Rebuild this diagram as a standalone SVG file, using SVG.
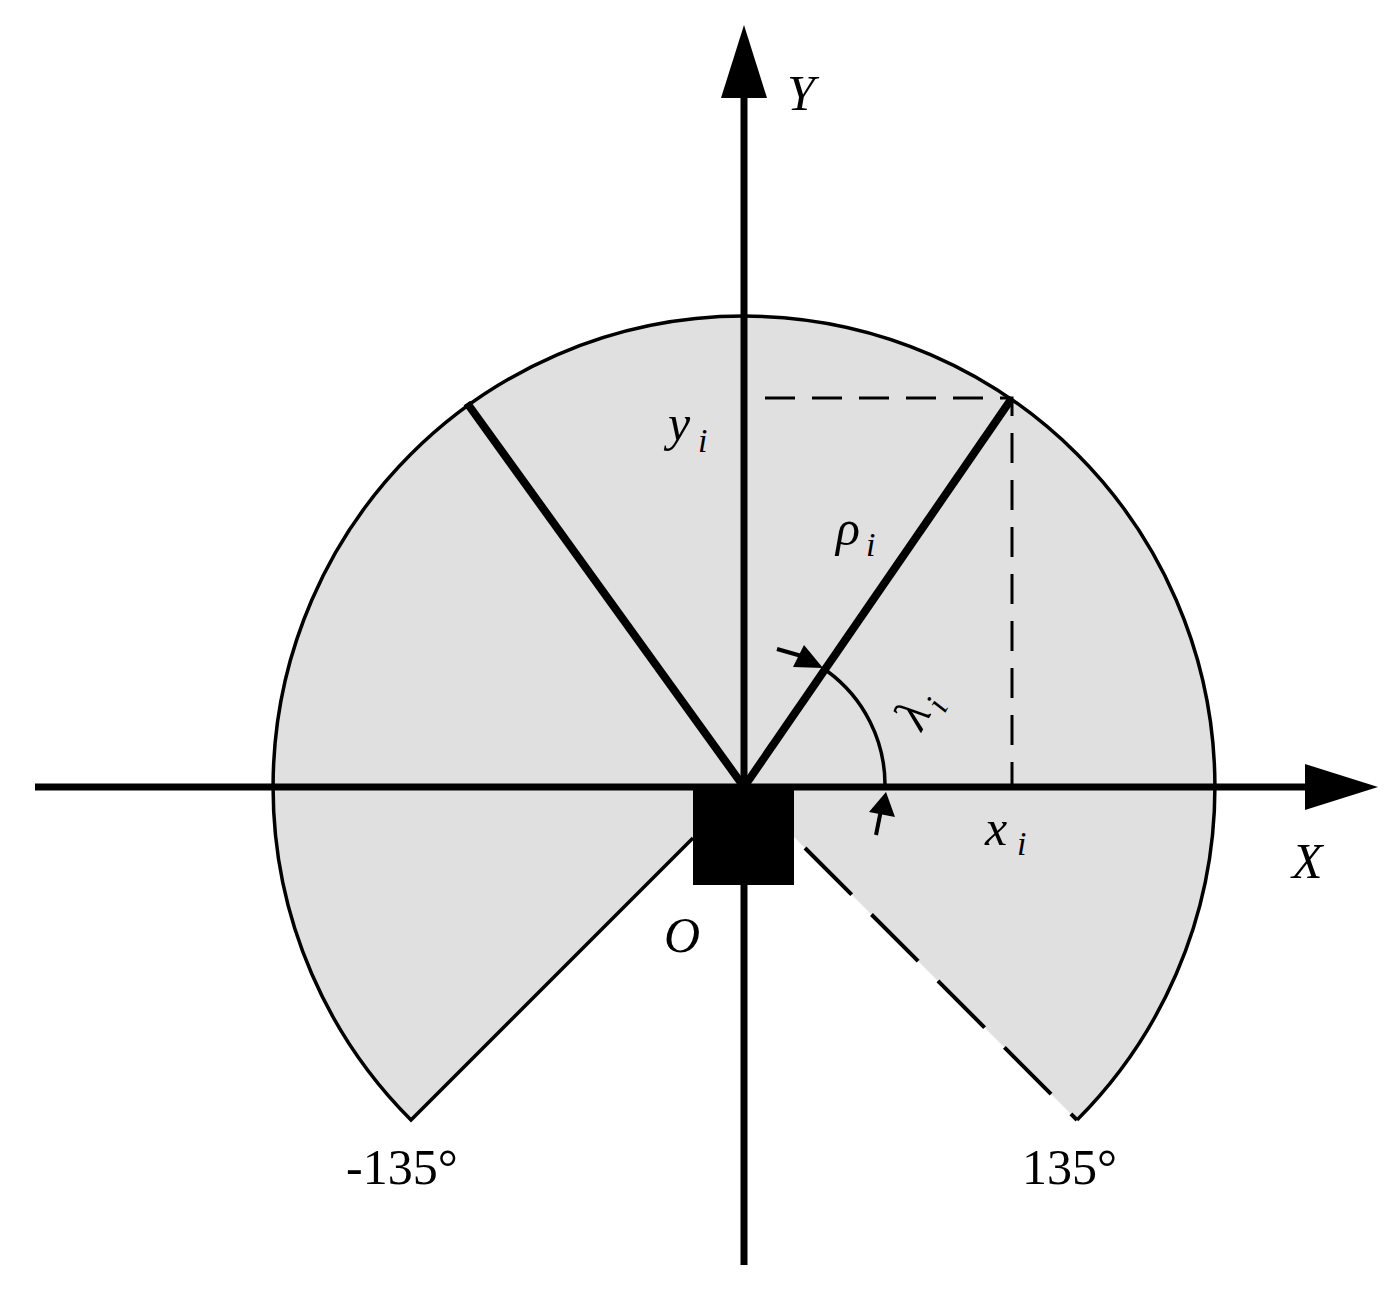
<svg xmlns="http://www.w3.org/2000/svg" width="1398" height="1307" viewBox="0 0 1398 1307">
<style>
text{font-family:"Liberation Serif","DejaVu Serif",serif;font-size:50px;fill:#000}
.i{font-family:"Liberation Serif","DejaVu Serif",serif;font-style:italic}
.s{font-family:"Liberation Serif","DejaVu Serif",serif;font-size:34px;font-style:italic}
</style>
<rect width="1398" height="1307" fill="#fff"/>
<g id="sector">
<path d="M744,787 L1077,1120 A471 471 0 1 0 411,1120 Z" fill="#e0e0e0"/>
<path d="M1077,1120 A471 471 0 1 0 411,1120 L693,838" fill="none" stroke="#000" stroke-width="3.5"/>
<path d="M805,848 L1077,1120" stroke="#000" stroke-width="4" stroke-dasharray="66 28"/>
</g>
<g id="connectors">
<line x1="35" y1="787" x2="1310" y2="787" stroke="#000" stroke-width="7"/>
<polygon points="1378,787 1305,764 1305,810" fill="#000"/>
<line x1="744" y1="1265" x2="744" y2="95" stroke="#000" stroke-width="7"/>
<polygon points="744,25 721,98 767,98" fill="#000"/>
<line x1="744" y1="787" x2="467" y2="403" stroke="#000" stroke-width="8"/>
<line x1="744" y1="787" x2="1012" y2="398" stroke="#000" stroke-width="8"/>
<path d="M765,398 H1012 V787" fill="none" stroke="#000" stroke-width="3" stroke-dasharray="30 17"/>
<path d="M827,671 A141 141 0 0 1 885,787" fill="none" stroke="#000" stroke-width="3.5"/>
<line x1="777" y1="649" x2="805" y2="657" stroke="#000" stroke-width="4"/>
<polygon points="823,668 793,667 804,645" fill="#000"/>
<line x1="876" y1="835" x2="881" y2="810" stroke="#000" stroke-width="4"/>
<polygon points="886,792 895,817 869,812" fill="#000"/>
</g>
<g id="robot"><rect x="693" y="787" width="101" height="98" fill="#000"/></g>
<g id="labels">
<text class="i" x="787" y="110">Y</text>
<text class="i" x="1292" y="878">X</text>
<text class="i" x="664" y="952">O</text>
<text class="i" x="668" y="440">y</text><text class="s" x="698" y="452">i</text>
<text class="i" x="985" y="845">x</text><text class="s" x="1017" y="855">i</text>
<text class="i" x="836" y="545">ρ</text><text class="s" x="866" y="556">i</text>
<g transform="translate(918,705) rotate(-62)"><text class="i" x="-22" y="16">λ</text><text class="s" x="4" y="28">i</text></g>
<text x="346" y="1184">-135°</text>
<text x="1022" y="1184">135°</text>
</g>
</svg>
